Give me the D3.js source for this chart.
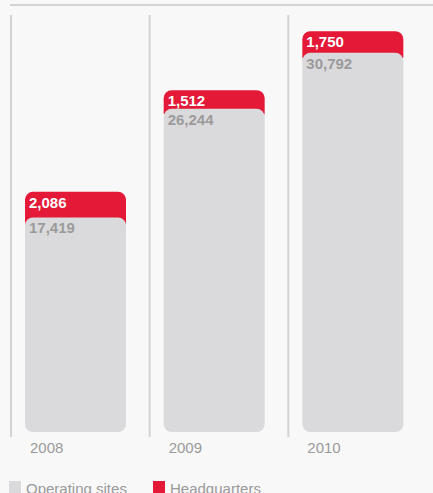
<!DOCTYPE html>
<html>
<head>
<meta charset="utf-8">
<script src="https://cdn.jsdelivr.net/npm/d3@7"></script>
<style>
  html, body { margin: 0; padding: 0; background: #f8f8f8; }
  svg { display: block; font-family: "Liberation Sans", Arial, Helvetica, sans-serif; }
</style>
</head>
<body>
<svg id="chart" width="433" height="493"></svg>
<script>
// Employees by location, per year
const years = ["2008", "2009", "2010"];
const operatingSites = [17419, 26244, 30792];
const headquarters = [2086, 1512, 1750];
const seriesNames = ["Operating sites", "Headquarters"];

const colors = { sites: "#dadadc", hq: "#e31937", rule: "#d3d3d3", text: "#9a9a9a" };

const svg = d3.select("#chart");
const W = 433;

// Column bands (each column has a separator rule on its left)
const x = d3.scaleBand().domain(years).range([10, 426]).paddingInner(0).paddingOuter(0);
const barOffset = 15, barWidth = 101;

const y = d3.scaleLinear().domain([0, 35000]).range([432, 1]);

// top rule
svg.append("rect").attr("x", 10).attr("y", 4).attr("width", W - 10).attr("height", 2).attr("fill", colors.rule);

// column separators
svg.selectAll("rect.sep").data(years).join("rect")
  .attr("class", "sep")
  .attr("x", d => x(d))
  .attr("y", 15)
  .attr("width", 2)
  .attr("height", 422)
  .attr("fill", colors.rule);

const data = years.map((yr, i) => ({ yr, sites: operatingSites[i], hq: headquarters[i] }));
const fmt = d3.format(",");

const g = svg.selectAll("g.bar").data(data).join("g").attr("class", "bar")
  .attr("transform", d => `translate(${x(d.yr) + barOffset},0)`);

// headquarters segment sits on top of operating sites; it tucks under the grey bar's corners
g.append("rect")
  .attr("x", 0)
  .attr("y", d => y(d.sites + d.hq))
  .attr("width", barWidth)
  .attr("height", d => y(d.sites) - y(d.sites + d.hq) + 12)
  .attr("rx", 8).attr("ry", 8)
  .attr("fill", colors.hq);

g.append("rect")
  .attr("x", 0)
  .attr("y", d => y(d.sites))
  .attr("width", barWidth)
  .attr("height", d => y(0) - y(d.sites))
  .attr("rx", 8).attr("ry", 8)
  .attr("fill", colors.sites);

g.append("text")
  .attr("x", 4)
  .attr("y", d => y(d.sites + d.hq) + 16)
  .attr("fill", "#ffffff")
  .attr("font-weight", "bold")
  .attr("font-size", 15)
  .text(d => fmt(d.hq));

g.append("text")
  .attr("x", 4)
  .attr("y", d => y(d.sites) + 16)
  .attr("fill", colors.text)
  .attr("font-weight", "bold")
  .attr("font-size", 15)
  .text(d => fmt(d.sites));

// year labels
svg.selectAll("text.year").data(years).join("text")
  .attr("class", "year")
  .attr("x", d => x(d) + 20)
  .attr("y", 453)
  .attr("fill", colors.text)
  .attr("font-size", 15)
  .text(d => d);

// legend
const legend = svg.append("g");
const legendItems = [
  { name: seriesNames[0], color: colors.sites, x: 9 },
  { name: seriesNames[1], color: colors.hq, x: 153 }
];
const li = legend.selectAll("g").data(legendItems).join("g")
  .attr("transform", d => `translate(${d.x},481)`);
li.append("rect").attr("width", 12).attr("height", 12).attr("fill", d => d.color);
li.append("text").attr("x", 17).attr("y", 13).attr("fill", colors.text)
  .attr("font-size", 15).text(d => d.name);
</script>
</body>
</html>
